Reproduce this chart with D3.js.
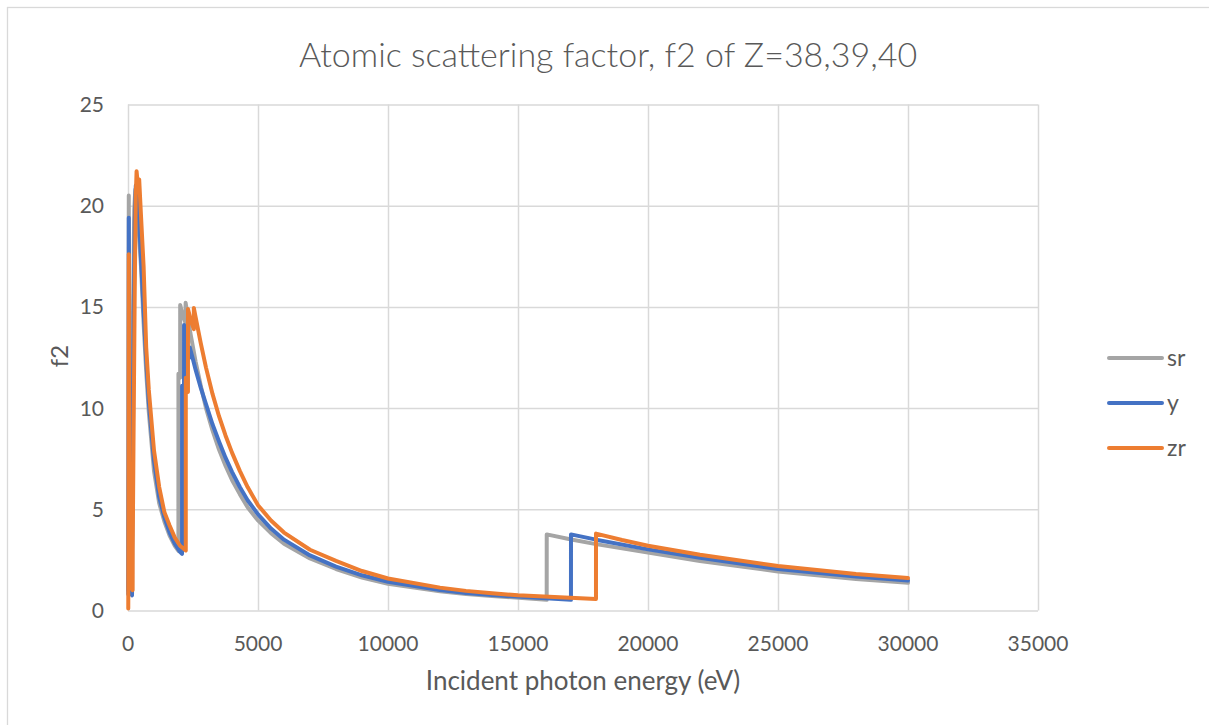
<!DOCTYPE html>
<html>
<head>
<meta charset="utf-8">
<script src="https://cdn.jsdelivr.net/npm/d3@7"></script>
<style>
  body { margin: 0; background: #fff; }
  text { font-family: Lato, "Open Sans", sans-serif; fill: #595959; }
</style>
</head>
<body>
<svg id="chart" width="1209" height="725"></svg>
<script>
// f2 values, one energy array per element (eV)
const srE = [10, 20, 30, 40, 55, 80, 110, 133, 136, 160, 200, 240, 280, 330, 360, 400, 500, 600, 700, 800,
  1000, 1200, 1400, 1600, 1800, 1939, 1940, 2006, 2007, 2100, 2215, 2216, 2300, 2400, 2500, 2600, 2700, 2800, 3000, 3250,
  3500, 3750, 4000, 4300, 4600, 5000, 5500, 6000, 7000, 8000, 9000, 10000, 12000, 13000, 14000, 16104, 16105, 17000, 18000, 20000,
  22000, 25000, 28000, 30000];
const srF2 = [1.0, 9.0, 20.5, 16.0, 7.0, 2.5, 1.1, 0.9, 2.5, 7.5, 15.5, 19.8, 20.8, 20.6, 20.0, 19.0, 17.0, 14.2, 11.8, 9.8,
  6.9, 5.3, 4.4, 3.7, 3.2, 2.95, 11.7, 11.5, 15.1, 14.6, 14.2, 15.2, 14.5, 13.7, 13.0, 12.3, 11.7, 11.1, 10.0, 8.9,
  7.95, 7.15, 6.45, 5.75, 5.1, 4.45, 3.82, 3.3, 2.57, 2.05, 1.63, 1.32, 0.95, 0.82, 0.72, 0.53, 3.76, 3.52, 3.28, 2.86,
  2.45, 1.93, 1.56, 1.37];

const yE = [10, 20, 30, 40, 55, 80, 110, 155, 158, 180, 220, 260, 300, 330, 395, 450, 500, 600, 700, 800,
  1000, 1200, 1400, 1600, 1800, 2000, 2079, 2080, 2155, 2156, 2250, 2372, 2373, 2500, 2600, 2800, 3000, 3250, 3500, 3750,
  4000, 4300, 4600, 5000, 5500, 6000, 7000, 8000, 9000, 10000, 12000, 13000, 14000, 17037, 17038, 18000, 20000, 22000, 25000, 28000,
  30000];
const yF2 = [0.8, 8.0, 19.4, 15.0, 6.5, 2.2, 0.9, 0.75, 2.5, 7.0, 14.5, 19.2, 21.0, 20.8, 20.3, 18.6, 17.4, 14.8, 12.4, 10.3,
  7.4, 5.6, 4.6, 3.85, 3.3, 2.9, 2.8, 11.1, 10.8, 14.1, 13.3, 12.5, 13.0, 12.4, 11.9, 11.0, 10.2, 9.2, 8.35, 7.55,
  6.85, 6.1, 5.45, 4.75, 4.05, 3.5, 2.72, 2.17, 1.74, 1.42, 1.01, 0.87, 0.76, 0.53, 3.76, 3.5, 3.02, 2.6, 2.05, 1.68,
  1.48];

const zrE = [10, 20, 30, 40, 55, 80, 110, 178, 181, 210, 260, 300, 330, 380, 430, 500, 600, 700, 800, 1000,
  1200, 1400, 1600, 1800, 2000, 2222, 2223, 2306, 2307, 2420, 2531, 2532, 2600, 2800, 3000, 3250, 3500, 3750, 4000, 4300,
  4600, 5000, 5500, 6000, 7000, 8000, 9000, 10000, 12000, 13000, 14000, 15000, 17999, 18000, 19000, 20000, 22000, 25000, 28000, 30000];
const zrF2 = [0.1, 6.0, 17.6, 13.0, 5.5, 2.0, 1.2, 1.0, 3.0, 8.0, 16.0, 20.5, 21.7, 21.0, 21.3, 19.5, 17.0, 13.0, 10.9, 7.9,
  6.1, 4.85, 4.2, 3.6, 3.2, 2.97, 11.5, 10.8, 14.9, 14.3, 13.9, 14.95, 14.5, 13.2, 12.0, 10.7, 9.6, 8.65, 7.8, 6.9,
  6.1, 5.2, 4.45, 3.85, 3.0, 2.45, 1.95, 1.58, 1.13, 0.97, 0.85, 0.75, 0.57, 3.8, 3.48, 3.2, 2.75, 2.2, 1.8, 1.6];

const seriesNames = ['sr', 'y', 'zr'];
const seriesColors = ['#a5a5a5', '#4472c4', '#ed7d31'];
const xTicks = [0, 5000, 10000, 15000, 20000, 25000, 30000, 35000];
const yTicks = [0, 5, 10, 15, 20, 25];

const series = [
  { name: seriesNames[0], pts: srE.map((e, i) => [e, srF2[i]]) },
  { name: seriesNames[1], pts: yE.map((e, i) => [e, yF2[i]]) },
  { name: seriesNames[2], pts: zrE.map((e, i) => [e, zrF2[i]]) }
];

const svg = d3.select('#chart');

// outer chart border
svg.append('rect')
  .attr('x', 7.5).attr('y', 7.5)
  .attr('width', 1230).attr('height', 740)
  .attr('fill', '#fff')
  .attr('stroke', '#d9d9d9')
  .attr('stroke-width', 1.3);

// SCALES //
const xScale = d3.scaleLinear().domain([0, 35000]).range([128, 1038]);
const yScale = d3.scaleLinear().domain([0, 25]).range([610.5, 104.5]);

// GRIDLINES //
svg.append('g')
  .attr('transform', `translate(0, ${yScale(0)})`)
  .call(d3.axisBottom(xScale).tickValues(xTicks).tickSize(-(yScale(0) - yScale(25))).tickFormat(''))
  .call(g => g.select('.domain').remove())
  .call(g => g.selectAll('line').attr('stroke', '#d9d9d9').attr('stroke-width', 1.5));

svg.append('g')
  .attr('transform', `translate(${xScale(0)}, 0)`)
  .call(d3.axisLeft(yScale).tickValues(yTicks).tickSize(-(xScale(35000) - xScale(0))).tickFormat(''))
  .call(g => g.select('.domain').remove())
  .call(g => g.selectAll('line').attr('stroke', '#d9d9d9').attr('stroke-width', 1.5));

// TICK LABELS //
svg.append('g')
  .selectAll('text')
  .data(xTicks)
  .enter()
  .append('text')
  .attr('x', d => xScale(d))
  .attr('y', 651)
  .style('text-anchor', 'middle')
  .style('font-size', '21px')
  .text(d => d);

svg.append('g')
  .selectAll('text')
  .data(yTicks)
  .enter()
  .append('text')
  .attr('x', 104)
  .attr('y', d => yScale(d) + 7.5)
  .style('text-anchor', 'end')
  .style('font-size', '21px')
  .text(d => d);

// LINES //
const line = d3.line()
  .x(d => xScale(d[0]))
  .y(d => yScale(d[1]));

svg.append('g')
  .selectAll('path')
  .data(series)
  .enter()
  .append('path')
  .attr('d', d => line(d.pts))
  .attr('fill', 'none')
  .attr('stroke', (d, i) => seriesColors[i])
  .attr('stroke-width', 4)
  .attr('stroke-linejoin', 'round')
  .attr('stroke-linecap', 'round');

// TITLES //
svg.append('text')
  .attr('x', 608)
  .attr('y', 67)
  .style('text-anchor', 'middle')
  .style('font-size', '34px')
  .style('font-weight', 300)
  .text('Atomic scattering factor, f2 of Z=38,39,40');

svg.append('text')
  .attr('x', (xScale(0) + xScale(35000)) / 2)
  .attr('y', 690)
  .style('text-anchor', 'middle')
  .style('font-size', '26px')
  .text('Incident photon energy (eV)');

svg.append('text')
  .attr('transform', 'rotate(-90)')
  .attr('x', -356)
  .attr('y', 68)
  .style('text-anchor', 'middle')
  .style('font-size', '24px')
  .text('f2');

// LEGEND //
const legend = svg.append('g');
seriesNames.forEach((name, i) => {
  const ly = 358 + i * 45;
  legend.append('line')
    .attr('x1', 1109).attr('x2', 1162)
    .attr('y1', ly).attr('y2', ly)
    .attr('stroke', seriesColors[i])
    .attr('stroke-width', 4)
    .attr('stroke-linecap', 'round');
  legend.append('text')
    .attr('x', 1167)
    .attr('y', ly + 8)
    .style('font-size', '23px')
    .text(name);
});
</script>
</body>
</html>
